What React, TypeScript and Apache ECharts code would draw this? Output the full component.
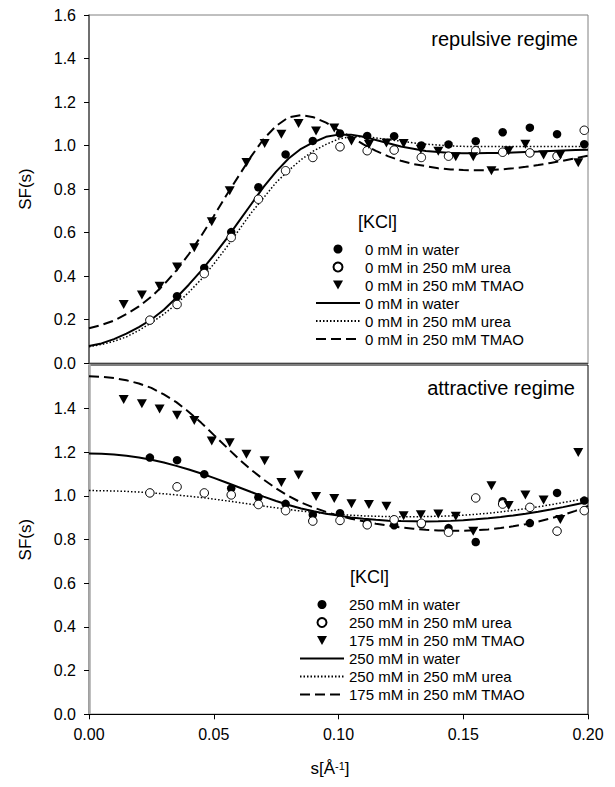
import React, { useEffect, useRef } from "react";
import * as echarts from "echarts";

// ---------- data ----------
// fit curves: common s grid
const S_GRID = [
  0, 0.005, 0.01, 0.015, 0.02, 0.025, 0.03, 0.035, 0.04, 0.045, 0.05, 0.055, 0.06, 0.065, 0.07, 0.075,
  0.08, 0.085, 0.09, 0.095, 0.1, 0.105, 0.11, 0.115, 0.12, 0.125, 0.13, 0.135, 0.14, 0.145, 0.15, 0.155,
  0.16, 0.165, 0.17, 0.175, 0.18, 0.185, 0.19, 0.195, 0.2,
];

// repulsive regime (0 mM KCl)
const TOP_FIT_WATER = [
  0.078, 0.09, 0.11, 0.135, 0.165, 0.2, 0.245, 0.3, 0.36, 0.425, 0.495, 0.57, 0.65, 0.73, 0.81, 0.88,
  0.94, 0.985, 1.015, 1.04, 1.05, 1.05, 1.04, 1.025, 1.01, 0.995, 0.985, 0.975, 0.97, 0.966, 0.964, 0.964,
  0.965, 0.966, 0.968, 0.97, 0.972, 0.975, 0.977, 0.979, 0.981,
];
const TOP_FIT_UREA = [
  0.075, 0.085, 0.1, 0.12, 0.15, 0.185, 0.225, 0.27, 0.325, 0.385, 0.455, 0.53, 0.61, 0.69, 0.76, 0.83,
  0.885, 0.935, 0.975, 1.005, 1.03, 1.04, 1.04, 1.035, 1.027, 1.02, 1.012, 1.006, 1.002, 0.998, 0.996, 0.995,
  0.995, 0.995, 0.995, 0.995, 0.995, 0.995, 0.995, 0.995, 0.995,
];
const TOP_FIT_TMAO = [
  0.16, 0.175, 0.195, 0.225, 0.26, 0.305, 0.36, 0.425, 0.5, 0.585, 0.675, 0.77, 0.86, 0.95, 1.03, 1.09,
  1.13, 1.14, 1.13, 1.105, 1.07, 1.04, 1.005, 0.975, 0.95, 0.93, 0.915, 0.905, 0.895, 0.89, 0.887, 0.886,
  0.887, 0.89, 0.895, 0.902, 0.91, 0.92, 0.93, 0.942, 0.953,
];

// attractive regime
const BOT_FIT_WATER = [
  1.195, 1.194, 1.19, 1.184, 1.176, 1.166, 1.153, 1.138, 1.121, 1.103, 1.083, 1.062, 1.04, 1.018, 0.997, 0.977,
  0.959, 0.943, 0.93, 0.919, 0.91, 0.902, 0.896, 0.891, 0.887, 0.885, 0.884, 0.883, 0.884, 0.886, 0.889, 0.893,
  0.898, 0.904, 0.911, 0.919, 0.928, 0.938, 0.949, 0.961, 0.973,
];
const BOT_FIT_UREA = [
  1.025, 1.024, 1.023, 1.021, 1.018, 1.014, 1.01, 1.005, 0.999, 0.993, 0.986, 0.978, 0.97, 0.962, 0.954, 0.946,
  0.938, 0.931, 0.925, 0.92, 0.916, 0.912, 0.909, 0.907, 0.906, 0.905, 0.905, 0.906, 0.907, 0.909, 0.912, 0.916,
  0.921, 0.927, 0.934, 0.942, 0.95, 0.96, 0.97, 0.98, 0.99,
];
const BOT_FIT_TMAO = [
  1.548, 1.546, 1.54, 1.53, 1.515, 1.495, 1.465, 1.43, 1.385, 1.335, 1.28, 1.225, 1.17, 1.12, 1.075, 1.035,
  1.0, 0.97, 0.947, 0.927, 0.91, 0.896, 0.884, 0.873, 0.864, 0.856, 0.85, 0.845, 0.842, 0.841, 0.841, 0.843,
  0.847, 0.853, 0.861, 0.871, 0.883, 0.897, 0.913, 0.932, 0.955,
];

// measured points
const S_CIRCLES = [
  0.0244, 0.0353, 0.0462, 0.057, 0.0679, 0.0788, 0.0897, 0.1006, 0.1115, 0.1223, 0.1332, 0.1441, 0.155, 0.1658,
  0.1767, 0.1876, 0.1985,
];
const S_TRIANGLES = [
  0.0139, 0.0212, 0.0283, 0.0353, 0.0422, 0.0492, 0.0564, 0.0631, 0.0704, 0.0771, 0.084, 0.091, 0.0983, 0.1052,
  0.1122, 0.1192, 0.1261, 0.133, 0.14, 0.147, 0.154, 0.1613, 0.1682, 0.1749, 0.1822, 0.1889, 0.1961,
];

// top: water points start at the 2nd circle position
const TOP_PTS_WATER = [
  0.307, 0.437, 0.602, 0.808, 0.959, 1.021, 1.055, 1.044, 1.043, 1.0, 1.005, 1.02, 1.061, 1.082, 1.052, 1.006,
];
const TOP_PTS_UREA = [
  0.197, 0.269, 0.411, 0.577, 0.753, 0.884, 0.945, 0.994, 0.976, 0.979, 0.945, 0.951, 0.976, 0.969, 0.966, 0.951,
  1.07,
];
const TOP_PTS_TMAO = [
  0.269, 0.313, 0.353, 0.441, 0.53, 0.65, 0.792, 0.922, 1.009, 1.052, 1.101, 1.067, 1.081, 1.021, 1.005, 1.012,
  1.009, 0.983, 0.974, 0.948, 0.948, 0.884, 0.976, 1.006, 0.956, 0.956, 0.921,
];

const BOT_PTS_WATER = [
  1.176, 1.164, 1.1, 1.035, 0.994, 0.964, 0.914, 0.921, 0.877, 0.866, 0.87, 0.853, 0.789, 0.976, 0.876, 1.014,
  0.979,
];
const BOT_PTS_UREA = [
  1.014, 1.042, 1.014, 1.005, 0.961, 0.933, 0.885, 0.888, 0.868, 0.891, 0.875, 0.834, 0.991, 0.963, 0.948, 0.839,
  0.933,
];
const BOT_PTS_TMAO = [
  1.442, 1.422, 1.399, 1.37, 1.346, 1.252, 1.244, 1.191, 1.161, 1.062, 1.096, 0.998, 0.989, 0.964, 0.961, 0.953,
  0.91, 0.914, 0.918, 0.907, 0.839, 1.047, 0.956, 1.005, 0.982, 0.892, 1.199,
];

const TOP_LABELS = ["0 mM in water", "0 mM in 250 mM urea", "0 mM in 250 mM TMAO"];
const BOT_LABELS = ["250 mM in water", "250 mM in 250 mM urea", "175 mM in 250 mM TMAO"];
const Y_TICKS = { min: 0, max: 1.6, interval: 0.2 };
const X_TICKS = { min: 0, max: 0.2, interval: 0.05 };

// ---------- helpers ----------
const FONT = "'Liberation Sans', Arial, Helvetica, sans-serif";
const TRI = "path://M0,0L10,0L5,9Z";

const zip = (xs: number[], ys: number[], offset = 0) => ys.map((y, i) => [xs[i + offset], y]);

export default function App() {
  const ref = useRef<HTMLDivElement>(null);

  useEffect(() => {
    if (!ref.current) return;
    const chart = echarts.init(ref.current, undefined, { renderer: "svg" });

    const labelMap: Record<string, string> = {};
    const mkSeries = (
      panel: number,
      labels: string[],
      pw: number[][],
      pu: number[][],
      pt: number[][],
      fw: number[],
      fu: number[],
      ft: number[]
    ) => {
      const p = "p" + panel;
      const names = [p + "pw", p + "pu", p + "pt", p + "lw", p + "lu", p + "lt"];
      names.forEach((n, i) => (labelMap[n] = labels[i % 3]));
      const base = { xAxisIndex: panel, yAxisIndex: panel };
      const lineBase = { ...base, type: "line", symbol: "circle", showSymbol: false, itemStyle: { color: "#000" }, z: 2 };
      const series: any[] = [
        { ...lineBase, name: names[3], data: zip(S_GRID, fw), lineStyle: { color: "#000", width: 2, type: "solid" } },
        { ...lineBase, name: names[4], data: zip(S_GRID, fu), lineStyle: { color: "#000", width: 1.5, type: [1.5, 2] } },
        { ...lineBase, name: names[5], data: zip(S_GRID, ft), lineStyle: { color: "#000", width: 2, type: [10, 5] } },
        {
          ...base,
          name: names[0],
          type: "scatter",
          symbol: "circle",
          symbolSize: 8.5,
          data: pw,
          itemStyle: { color: "#000", opacity: 1 },
          z: 3,
        },
        {
          ...base,
          name: names[1],
          type: "scatter",
          symbol: "circle",
          symbolSize: 8.5,
          data: pu,
          itemStyle: { color: "#fff", borderColor: "#000", borderWidth: 1, opacity: 1 },
          z: 3,
        },
        {
          ...base,
          name: names[2],
          type: "scatter",
          symbol: TRI,
          symbolSize: [10, 9],
          data: pt,
          itemStyle: { color: "#000", opacity: 1 },
          z: 3,
        },
      ];
      return { series, names };
    };

    const top = mkSeries(
      0,
      TOP_LABELS,
      zip(S_CIRCLES, TOP_PTS_WATER, 1),
      zip(S_CIRCLES, TOP_PTS_UREA),
      zip(S_TRIANGLES, TOP_PTS_TMAO),
      TOP_FIT_WATER,
      TOP_FIT_UREA,
      TOP_FIT_TMAO
    );
    const bot = mkSeries(
      1,
      BOT_LABELS,
      zip(S_CIRCLES, BOT_PTS_WATER),
      zip(S_CIRCLES, BOT_PTS_UREA),
      zip(S_TRIANGLES, BOT_PTS_TMAO),
      BOT_FIT_WATER,
      BOT_FIT_UREA,
      BOT_FIT_TMAO
    );

    const legendData = (names: string[]) =>
      names.map((n, i) => {
        if (i === 2) return { name: n, icon: TRI };
        if (i >= 3)
          return {
            name: n,
            itemStyle: { color: "rgba(0,0,0,0)", borderColor: "rgba(0,0,0,0)", borderWidth: 0, opacity: 0 },
          };
        return { name: n };
      });

    const legendBase = {
      orient: "vertical",
      itemWidth: 44,
      itemHeight: 9,
      itemGap: 3,
      selectedMode: false,
      formatter: (n: string) => labelMap[n] ?? n,
      textStyle: { fontSize: 15, lineHeight: 15, color: "#000", fontFamily: FONT },
    };

    const yAxisBase = (gridIndex: number, lineColor: string, lineWidth: number, hideMax: boolean) => ({
      type: "value",
      gridIndex,
      ...Y_TICKS,
      name: "SF(s)",
      nameLocation: "middle",
      nameGap: 55,
      nameTextStyle: { fontSize: 17, color: "#000", fontFamily: FONT },
      axisLine: { show: true, lineStyle: { color: lineColor, width: lineWidth } },
      axisTick: { show: true, length: 5, lineStyle: { color: "#000" } },
      axisLabel: {
        fontSize: 16,
        color: "#000",
        margin: 13,
        fontFamily: FONT,
        showMaxLabel: !hideMax,
        formatter: (v: number) => v.toFixed(1),
      },
      splitLine: { show: false },
    });

    const option: any = {
      animation: false,
      backgroundColor: "#fff",
      textStyle: { fontFamily: FONT },
      grid: [
        { left: 89, top: 15, width: 499, height: 348, show: true, borderColor: "#808080", borderWidth: 1 },
        { left: 89, top: 365, width: 499, height: 349.3, show: true, borderColor: "#000", borderWidth: 1 },
      ],
      xAxis: [
        {
          type: "value",
          gridIndex: 0,
          ...X_TICKS,
          axisLine: { show: true, lineStyle: { color: "#444", width: 1 } },
          axisTick: { show: false },
          axisLabel: { show: false },
          splitLine: { show: false },
        },
        {
          type: "value",
          gridIndex: 1,
          ...X_TICKS,
          name: "{a|s[Å}{b|-1}{a|]}",
          nameLocation: "middle",
          nameGap: 46,
          nameTextStyle: {
            padding: [0, 17, 0, 0],
            rich: {
              a: { fontSize: 17, color: "#000", fontFamily: FONT },
              b: { fontSize: 11, color: "#000", fontFamily: FONT, verticalAlign: "top" },
            },
          },
          axisLine: { show: true, lineStyle: { color: "#000", width: 1 } },
          axisTick: { show: true, length: 5, lineStyle: { color: "#000" } },
          axisLabel: {
            fontSize: 16,
            color: "#000",
            margin: 12,
            fontFamily: FONT,
            formatter: (v: number) => v.toFixed(2),
          },
          splitLine: { show: false },
        },
      ],
      yAxis: [yAxisBase(0, "#555", 1.5, false), yAxisBase(1, "#aaa", 2.5, true)],
      legend: [
        { ...legendBase, left: 310, top: 236.5, data: legendData(top.names) },
        { ...legendBase, left: 294, top: 592, data: legendData(bot.names) },
      ],
      graphic: [
        {
          type: "text",
          x: 578,
          y: 39,
          style: { text: "repulsive regime", fontSize: 20, fontFamily: FONT, fill: "#000", align: "right", verticalAlign: "middle" },
        },
        {
          type: "text",
          x: 575,
          y: 388,
          style: { text: "attractive regime", fontSize: 20, fontFamily: FONT, fill: "#000", align: "right", verticalAlign: "middle" },
        },
        {
          type: "text",
          x: 358,
          y: 222,
          style: { text: "[KCl]", fontSize: 18, fontFamily: FONT, fill: "#000", align: "left", verticalAlign: "middle" },
        },
        {
          type: "text",
          x: 350,
          y: 577,
          style: { text: "[KCl]", fontSize: 18, fontFamily: FONT, fill: "#000", align: "left", verticalAlign: "middle" },
        },
      ],
      series: [...top.series, ...bot.series],
    };

    chart.setOption(option);
    return () => chart.dispose();
  }, []);

  return (
    <div
      ref={ref}
      style={{ position: "absolute", left: 0, top: 0, width: 615, height: 787, background: "#fff" }}
    />
  );
}
